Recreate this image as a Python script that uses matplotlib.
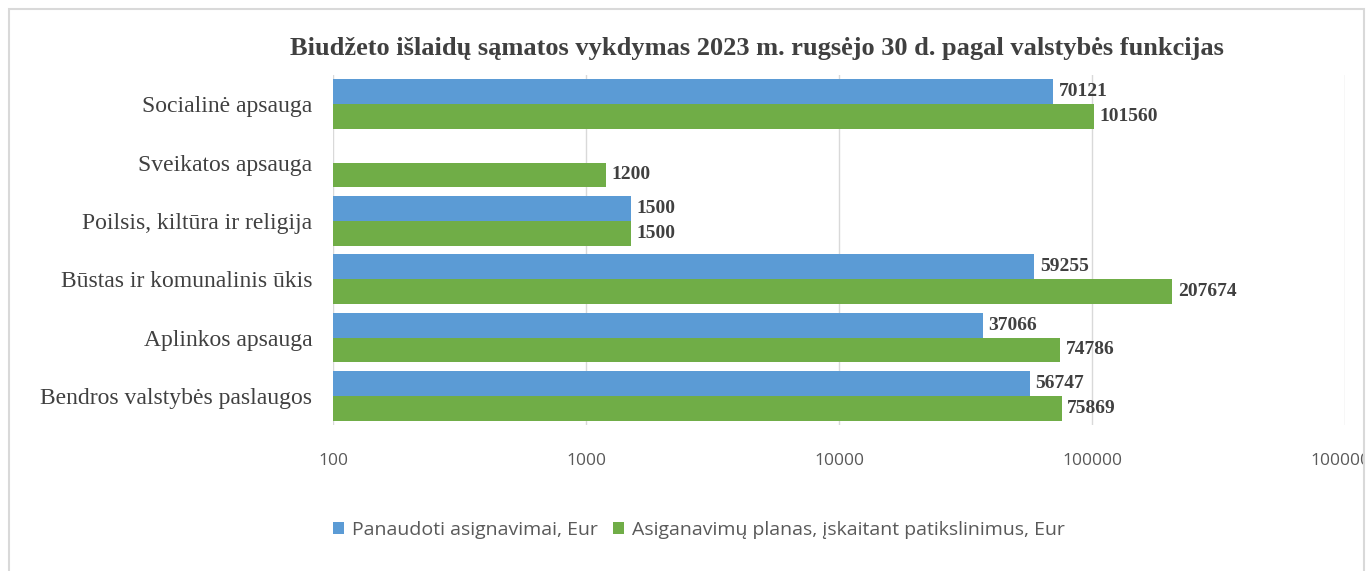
import matplotlib
matplotlib.use('Agg')
import matplotlib.pyplot as plt
import numpy as np
from matplotlib.patches import Rectangle

# data, top to bottom as drawn
categories = ['Socialinė apsauga', 'Sveikatos apsauga', 'Poilsis, kiltūra ir religija',
              'Būstas ir komunalinis ūkis', 'Aplinkos apsauga', 'Bendros valstybės paslaugos']
used = [70121, None, 1500, 59255, 37066, 56747]
plan = [101560, 1200, 1500, 207674, 74786, 75869]
series_names = ['Panaudoti asignavimai, Eur', 'Asiganavimų planas, įskaitant patikslinimus, Eur']
x_ticks = [100, 1000, 10000, 100000, 1000000]

BLUE = '#5B9BD5'
GREEN = '#70AD47'
TXT = '#404040'
SERIF = 'Liberation Serif'

fig = plt.figure(figsize=(13.69, 5.71), dpi=100)
ax = fig.add_axes([333 / 1369, 1 - 425 / 571, (1345 - 333) / 1369, (425 - 75) / 571])

y = np.arange(len(categories))
h = 0.425
base = 100
for vals, off, col, name in [(used, -h / 2, BLUE, series_names[0]), (plan, h / 2, GREEN, series_names[1])]:
    ys = [yy + off for yy, v in zip(y, vals) if v is not None]
    vs = [v for v in vals if v is not None]
    ax.barh(ys, [v - base for v in vs], left=base, height=h, color=col, label=name, zorder=2)
    for yy, v in zip(ys, vs):
        ax.annotate(str(v), (v, yy), xytext=(4, 0), textcoords='offset points',
                    ha='left', va='center', fontsize=14, fontweight='bold',
                    family=SERIF, color=TXT)

ax.set_xscale('log')
ax.set_xlim(100, 1000000)
ax.set_ylim(len(categories) - 0.5, -0.5)
ax.set_xticks(x_ticks)
ax.set_xticklabels([str(t) for t in x_ticks])
ax.xaxis.set_minor_locator(matplotlib.ticker.NullLocator())
ax.set_yticks(y)
ax.set_yticklabels(categories, family=SERIF, fontsize=17, color=TXT)
for lab in ax.get_xticklabels():
    lab.set_fontfamily('Open Sans')
    lab.set_fontsize(12.5)
    lab.set_color('#595959')
ax.tick_params(axis='both', length=0)
ax.tick_params(axis='x', pad=20)
ax.tick_params(axis='y', pad=15)
for s in ax.spines.values():
    s.set_visible(False)
ax.grid(axis='x', color='#D9D9D9', linewidth=1, zorder=0)

fig.text(757 / 1369, 1 - 48 / 571, 'Biudžeto išlaidų sąmatos vykdymas 2023 m. rugsėjo 30 d. pagal valstybės funkcijas',
         ha='center', va='center', family=SERIF, fontweight='bold', fontsize=19, color=TXT)

leg = fig.legend(loc='center', bbox_to_anchor=(699 / 1369, 1 - 530 / 571), ncol=2, frameon=False,
                 prop={'family': 'Open Sans', 'size': 14}, handlelength=0.55, handleheight=0.55,
                 handletextpad=0.4, columnspacing=0.8, labelcolor='#595959')

# outer frame of the chart
fig.patches.append(Rectangle((1364 / 1369, 0), 5 / 1369, 1, transform=fig.transFigure,
                             facecolor='white', edgecolor='none', zorder=10))
fig.patches.append(Rectangle((9 / 1369, -0.01), (1364 - 9) / 1369, 1 - 9 / 571 + 0.01,
                             transform=fig.transFigure, facecolor='none',
                             edgecolor='#D9D9D9', linewidth=1.5, zorder=11))

fig.savefig('out.png', dpi=100, facecolor='white')
